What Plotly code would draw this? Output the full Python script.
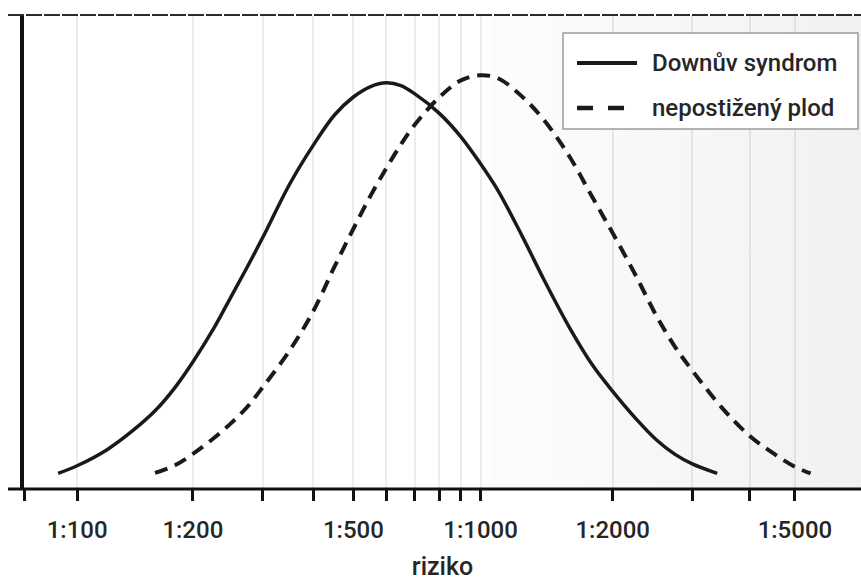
import numpy as np
import plotly.graph_objects as go

# Risk values are given as the denominator N of "1:N".
tick_risks = [100, 200, 300, 400, 500, 600, 700, 800, 900, 1000, 2000, 3000, 4000, 5000]
tick_labels = ["1:100", "1:200", "", "", "1:500", "", "", "", "", "1:1000", "1:2000", "", "", "1:5000"]

# Downův syndrom: relative frequency across risk
down_risk = [89, 100, 120, 140, 160, 180, 200, 225, 250, 275, 300, 350, 400, 450, 500, 550,
             600, 650, 700, 800, 900, 1000, 1100, 1250, 1400, 1600, 1800, 2000, 2250, 2500,
             2750, 3000, 3400]
down_density = [3.3, 4.9, 8.3, 12.3, 16.5, 21.4, 26.8, 33.6, 40.6, 47.0, 53.1, 64.4, 72.6, 78.9,
                82.7, 84.9, 85.7, 85.1, 83.4, 79.3, 74.3, 68.6, 62.8, 53.2, 44.1, 34.0, 26.2,
                20.6, 14.9, 10.4, 7.3, 5.3, 3.3]

# nepostižený plod: relative frequency across risk
unaff_risk = [160, 180, 200, 225, 250, 275, 300, 350, 400, 450, 500, 550, 600, 650, 700, 800,
              900, 1000, 1100, 1250, 1400, 1600, 1800, 2000, 2250, 2500, 2750, 3000, 3500,
              4000, 4500, 5000, 5400]
unaff_density = [3.4, 5.0, 7.4, 10.6, 13.9, 17.4, 21.5, 29.3, 37.6, 46.9, 54.9, 61.9, 67.7,
                 72.7, 76.8, 82.6, 86.2, 87.3, 86.6, 82.7, 77.8, 70.1, 61.6, 54.0, 45.1, 36.6,
                 30.0, 25.0, 16.9, 11.2, 7.5, 4.7, 3.3]

axis_risk_range = [72, 6900]
shade_from_risk = 1050
density_range = [0, 100]


def risk_to_x(r):
    """Position on the risk axis (slightly stretched logarithmic scale)."""
    L = np.log10(np.asarray(r, dtype=float) / 100.0)
    return 0.9325 * L + 0.0675 * L ** 2


FONT = "Roboto, Liberation Sans, sans-serif"
TEXT = "#262626"
x_lo, x_hi = [float(v) for v in risk_to_x(axis_risk_range)]
x_shade = float(risk_to_x(shade_from_risk))

fig = go.Figure()

# soft grey band on the low-risk side
fig.add_trace(go.Scatter(
    x=[x_shade, x_hi, x_hi, x_shade, x_shade],
    y=[density_range[0], density_range[0], density_range[1], density_range[1], density_range[0]],
    mode="lines", line=dict(width=0), fill="toself",
    fillgradient=dict(type="horizontal",
                      colorscale=[[0, "rgba(0,0,0,0.01)"], [1, "rgba(0,0,0,0.055)"]]),
    hoverinfo="skip", showlegend=False))

fig.add_trace(go.Scatter(
    x=risk_to_x(down_risk), y=down_density, name="Downův syndrom",
    mode="lines", line=dict(color="#1a1a1a", width=3.5, shape="spline", smoothing=1.0),
    showlegend=False))

fig.add_trace(go.Scatter(
    x=risk_to_x(unaff_risk), y=unaff_density, name="nepostižený plod",
    mode="lines", line=dict(color="#1a1a1a", width=4, dash="13px,8px", shape="spline", smoothing=1.0),
    showlegend=False))

x_stub = -16 / 837
shapes = [
    # dashed top frame line
    dict(type="line", xref="paper", yref="paper", x0=x_stub, x1=1, y0=1, y1=1,
         line=dict(color="#2a2a2a", width=2, dash="16px,2px")),
    # baseline extended left of the vertical axis
    dict(type="line", xref="paper", yref="paper", x0=x_stub, x1=1, y0=0, y1=0,
         line=dict(color="#111111", width=3)),
    # legend box
    dict(type="rect", xref="paper", yref="paper", x0=0.644, x1=0.9964, y0=0.7595, y1=0.962,
         line=dict(color="#9a9a9a", width=1.5), fillcolor="white"),
    dict(type="line", xref="paper", yref="paper", x0=0.6607, x1=0.7324, y0=0.8987, y1=0.8987,
         line=dict(color="#1a1a1a", width=4)),
    dict(type="line", xref="paper", yref="paper", x0=0.6607, x1=0.7324, y0=0.8038, y1=0.8038,
         line=dict(color="#1a1a1a", width=4.5, dash="16px,15px")),
]

annotations = [
    dict(xref="paper", yref="paper", x=0.748, y=0.8987, text="Downův syndrom", showarrow=False,
         xanchor="left", yanchor="middle", font=dict(family=FONT, size=24, color=TEXT, weight=500)),
    dict(xref="paper", yref="paper", x=0.748, y=0.8038, text="nepostižený plod", showarrow=False,
         xanchor="left", yanchor="middle", font=dict(family=FONT, size=24, color=TEXT, weight=500)),
]

fig.update_layout(
    width=861, height=582,
    margin=dict(l=24, r=0, t=15, b=93),
    paper_bgcolor="white", plot_bgcolor="white",
    shapes=shapes, annotations=annotations,
    xaxis=dict(
        range=[x_lo, x_hi],
        tickvals=[x_lo] + [float(v) for v in risk_to_x(tick_risks)],
        ticktext=[""] + tick_labels,
        ticks="outside", ticklen=11, tickwidth=2.5, tickcolor="#111111",
        ticklabelstandoff=8,
        tickfont=dict(family=FONT, size=24, color=TEXT, weight=500),
        showgrid=True, gridcolor="#ececec", gridwidth=1.5,
        zeroline=False, showline=False,
        title=dict(text="riziko", standoff=14, font=dict(family=FONT, size=25, color=TEXT, weight=500)),
    ),
    yaxis=dict(
        range=density_range, showticklabels=False, ticks="", showgrid=False, zeroline=False,
        showline=True, linecolor="#111111", linewidth=3.5,
    ),
)

fig.write_html("out.html")
